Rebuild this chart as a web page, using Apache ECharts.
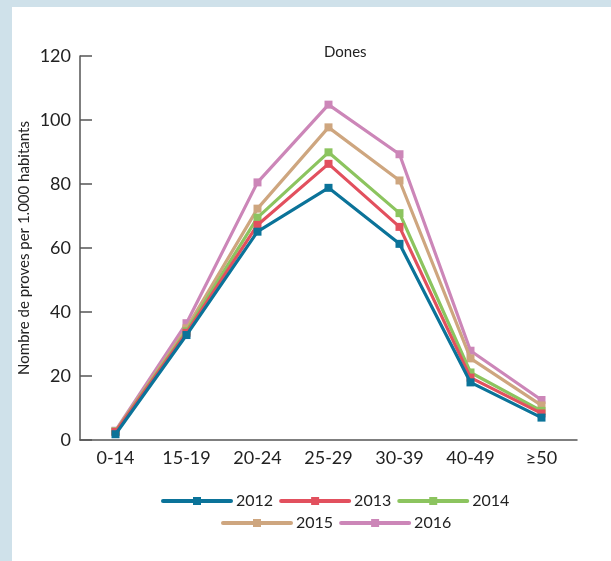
<!DOCTYPE html>
<html><head><meta charset="utf-8">
<script src="https://cdn.jsdelivr.net/npm/echarts@6/dist/echarts.min.js"></script>
<style>
html,body{margin:0;padding:0;background:#cfe1ea;}
#wrap{position:absolute;left:12px;top:7px;width:599px;height:554px;background:#fff;}
#c{position:absolute;left:-12px;top:-7px;width:611px;height:561px;}
</style></head>
<body><div id="wrap"><div id="c"></div></div>
<script>
const categories = ['0-14','15-19','20-24','25-29','30-39','40-49','≥50'];
const years = ['2012','2013','2014','2015','2016'];
const s2012 = [1.8, 32.8, 65.1, 78.8, 61.3, 18.0, 7.0];
const s2013 = [2.5, 33.5, 67.2, 86.3, 66.6, 19.5, 8.3];
const s2014 = [2.6, 34.0, 69.5, 89.9, 70.9, 21.1, 9.1];
const s2015 = [2.8, 34.9, 72.3, 97.7, 81.1, 25.5, 10.8];
const s2016 = [2.9, 36.5, 80.5, 104.8, 89.3, 27.9, 12.5];
const yTicks = [0, 20, 40, 60, 80, 100, 120];
const colors = ['#0b7399', '#e2505e', '#8cc45f', '#cea67f', '#cc86b8'];
const values = [s2012, s2013, s2014, s2015, s2016];

const chart = echarts.init(document.getElementById('c'));
const font = 'Lato, "Noto Sans", sans-serif';
const legendCommon = {
  itemWidth: 68, itemHeight: 10, itemGap: 6,
  lineStyle: {width: 4, cap: 'round'},
  textStyle: {fontFamily: font, fontSize: 16, color: '#222'},
  orient: 'horizontal'
};
chart.setOption({
  animation: false,
  title: {text: 'Dones', left: 319, top: 40, textStyle: {fontFamily: font, fontSize: 15, fontWeight: 'normal', color: '#222'}},
  legend: [
    Object.assign({}, legendCommon, {data: ['2012','2013','2014'], left: 156, top: 488}),
    Object.assign({}, legendCommon, {data: ['2015','2016'], left: 216, top: 510})
  ],
  grid: {left: 80, right: 34, top: 56, bottom: 121},
  xAxis: {
    type: 'category', data: categories, boundaryGap: true,
    axisLine: {lineStyle: {color: '#555', width: 1.5}},
    axisTick: {inside: true, length: 10, lineStyle: {color: '#555', width: 1.5}},
    axisLabel: {fontFamily: font, fontSize: 18, color: '#222', margin: 9}
  },
  yAxis: {
    type: 'value', min: yTicks[0], max: yTicks[yTicks.length-1], interval: 20,
    name: 'Nombre de proves per 1.000 habitants', nameLocation: 'middle', nameGap: 48,
    nameMoveOverlap: false,
    nameTextStyle: {fontFamily: font, fontSize: 15, color: '#222'},
    splitLine: {show: false},
    axisLine: {show: true, lineStyle: {color: '#555', width: 1.5}},
    axisTick: {show: true, inside: true, length: 12, lineStyle: {color: '#555', width: 1.5}},
    axisLabel: {fontFamily: font, fontSize: 18, color: '#222', margin: 9}
  },
  series: years.map((y, i) => ({
    name: y, type: 'line', data: values[i],
    symbol: 'rect', symbolSize: 8, showSymbol: true,
    lineStyle: {width: 3.2, color: colors[i]},
    itemStyle: {color: colors[i]},
    z: 2 + (4 - i)
  }))
});
</script>
</body></html>
